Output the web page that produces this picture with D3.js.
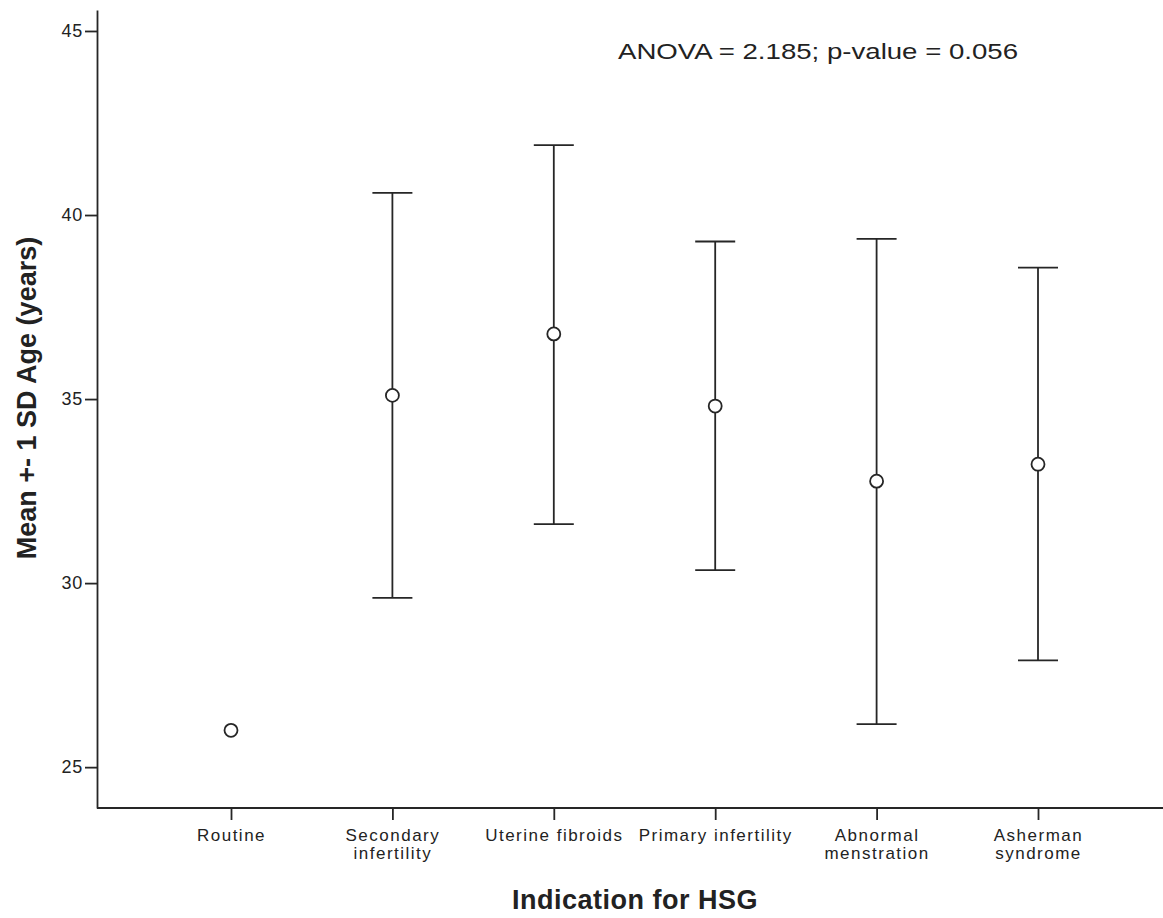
<!DOCTYPE html>
<html>
<head>
<meta charset="utf-8">
<script src="https://cdn.jsdelivr.net/npm/d3@7"></script>
<style>
  body { margin: 0; background: #fff; }
  text { font-family: "Liberation Sans", Arial, sans-serif; fill: #222; }
</style>
</head>
<body>
<div id="chart"></div>
<script>
// categories (line breaks where the label wraps)
var categories = ["Routine", "Secondary\ninfertility", "Uterine fibroids", "Primary infertility", "Abnormal\nmenstration", "Asherman\nsyndrome"];
// mean age per group
var means = [26.0, 35.1, 36.77, 34.81, 32.77, 33.23];
// mean +1 SD and mean -1 SD (Routine has no bar)
var upper = [null, 40.6, 41.9, 39.28, 39.35, 38.57];
var lower = [null, 29.6, 31.6, 30.35, 26.17, 27.9];
var yTicks = [25, 30, 35, 40, 45];

var width = 1163;
var height = 918;
var ink = "#262626";

var svg = d3.select("#chart")
  .append("svg")
  .attr("width", width)
  .attr("height", height);

var x = d3.scalePoint()
  .domain(categories)
  .range([231, 1038]);

var y = d3.scaleLinear()
  .domain([23.89, 45.57])
  .range([808, 10]);

// y axis
var yAxis = svg.append("g")
  .attr("transform", "translate(97,0)")
  .call(d3.axisLeft(y).tickValues(yTicks).tickSize(12).tickPadding(2).tickSizeOuter(0));
yAxis.selectAll("text")
  .style("font-size", "18px")
  .style("letter-spacing", "0.8px");
yAxis.selectAll("line, path").attr("stroke", ink).attr("stroke-width", 1.8);

// x axis
var xAxis = svg.append("g")
  .attr("transform", "translate(0,808)")
  .call(d3.axisBottom(x).tickSize(12).tickSizeOuter(0));
xAxis.select(".domain").remove();
xAxis.append("line")
  .attr("x1", 97).attr("x2", width)
  .attr("stroke", ink).attr("stroke-width", 1.8);
xAxis.selectAll("line").attr("stroke", ink).attr("stroke-width", 1.8);

// wrapped category labels
xAxis.selectAll(".tick text").each(function(d) {
  var t = d3.select(this).text("").attr("y", 0).attr("dy", null)
    .style("font-size", "17px")
    .style("letter-spacing", "1.5px");
  d.split("\n").forEach(function(line, i) {
    t.append("tspan")
      .attr("x", 0)
      .attr("y", 33 + i * 18)
      .text(line);
  });
});

// error bars
var idx = d3.range(categories.length).filter(function(i) { return upper[i] != null; });
var bars = svg.append("g").selectAll("g")
  .data(idx)
  .enter()
  .append("g")
  .attr("stroke", ink)
  .attr("stroke-width", 1.8);

bars.append("line")
  .attr("x1", function(i) { return x(categories[i]); })
  .attr("x2", function(i) { return x(categories[i]); })
  .attr("y1", function(i) { return y(upper[i]); })
  .attr("y2", function(i) { return y(lower[i]); });

bars.append("line")
  .attr("x1", function(i) { return x(categories[i]) - 20; })
  .attr("x2", function(i) { return x(categories[i]) + 20; })
  .attr("y1", function(i) { return y(upper[i]); })
  .attr("y2", function(i) { return y(upper[i]); });

bars.append("line")
  .attr("x1", function(i) { return x(categories[i]) - 20; })
  .attr("x2", function(i) { return x(categories[i]) + 20; })
  .attr("y1", function(i) { return y(lower[i]); })
  .attr("y2", function(i) { return y(lower[i]); });

// mean circles
svg.append("g").selectAll("circle")
  .data(means)
  .enter()
  .append("circle")
  .attr("cx", function(d, i) { return x(categories[i]); })
  .attr("cy", function(d) { return y(d); })
  .attr("r", 6.5)
  .attr("fill", "#fff")
  .attr("stroke", ink)
  .attr("stroke-width", 1.8);

// titles
svg.append("text")
  .attr("x", 635)
  .attr("y", 909)
  .attr("text-anchor", "middle")
  .style("font-size", "27px")
  .style("font-weight", "bold")
  .style("letter-spacing", "0.5px")
  .text("Indication for HSG");

svg.append("text")
  .attr("transform", "translate(36,398) rotate(-90)")
  .attr("text-anchor", "middle")
  .style("font-size", "27px")
  .style("font-weight", "bold")
  .text("Mean +- 1 SD Age (years)");

svg.append("text")
  .attr("x", 618)
  .attr("y", 59)
  .attr("textLength", 400)
  .attr("lengthAdjust", "spacingAndGlyphs")
  .style("font-size", "22px")
  .text("ANOVA = 2.185; p-value = 0.056");
</script>
</body>
</html>
